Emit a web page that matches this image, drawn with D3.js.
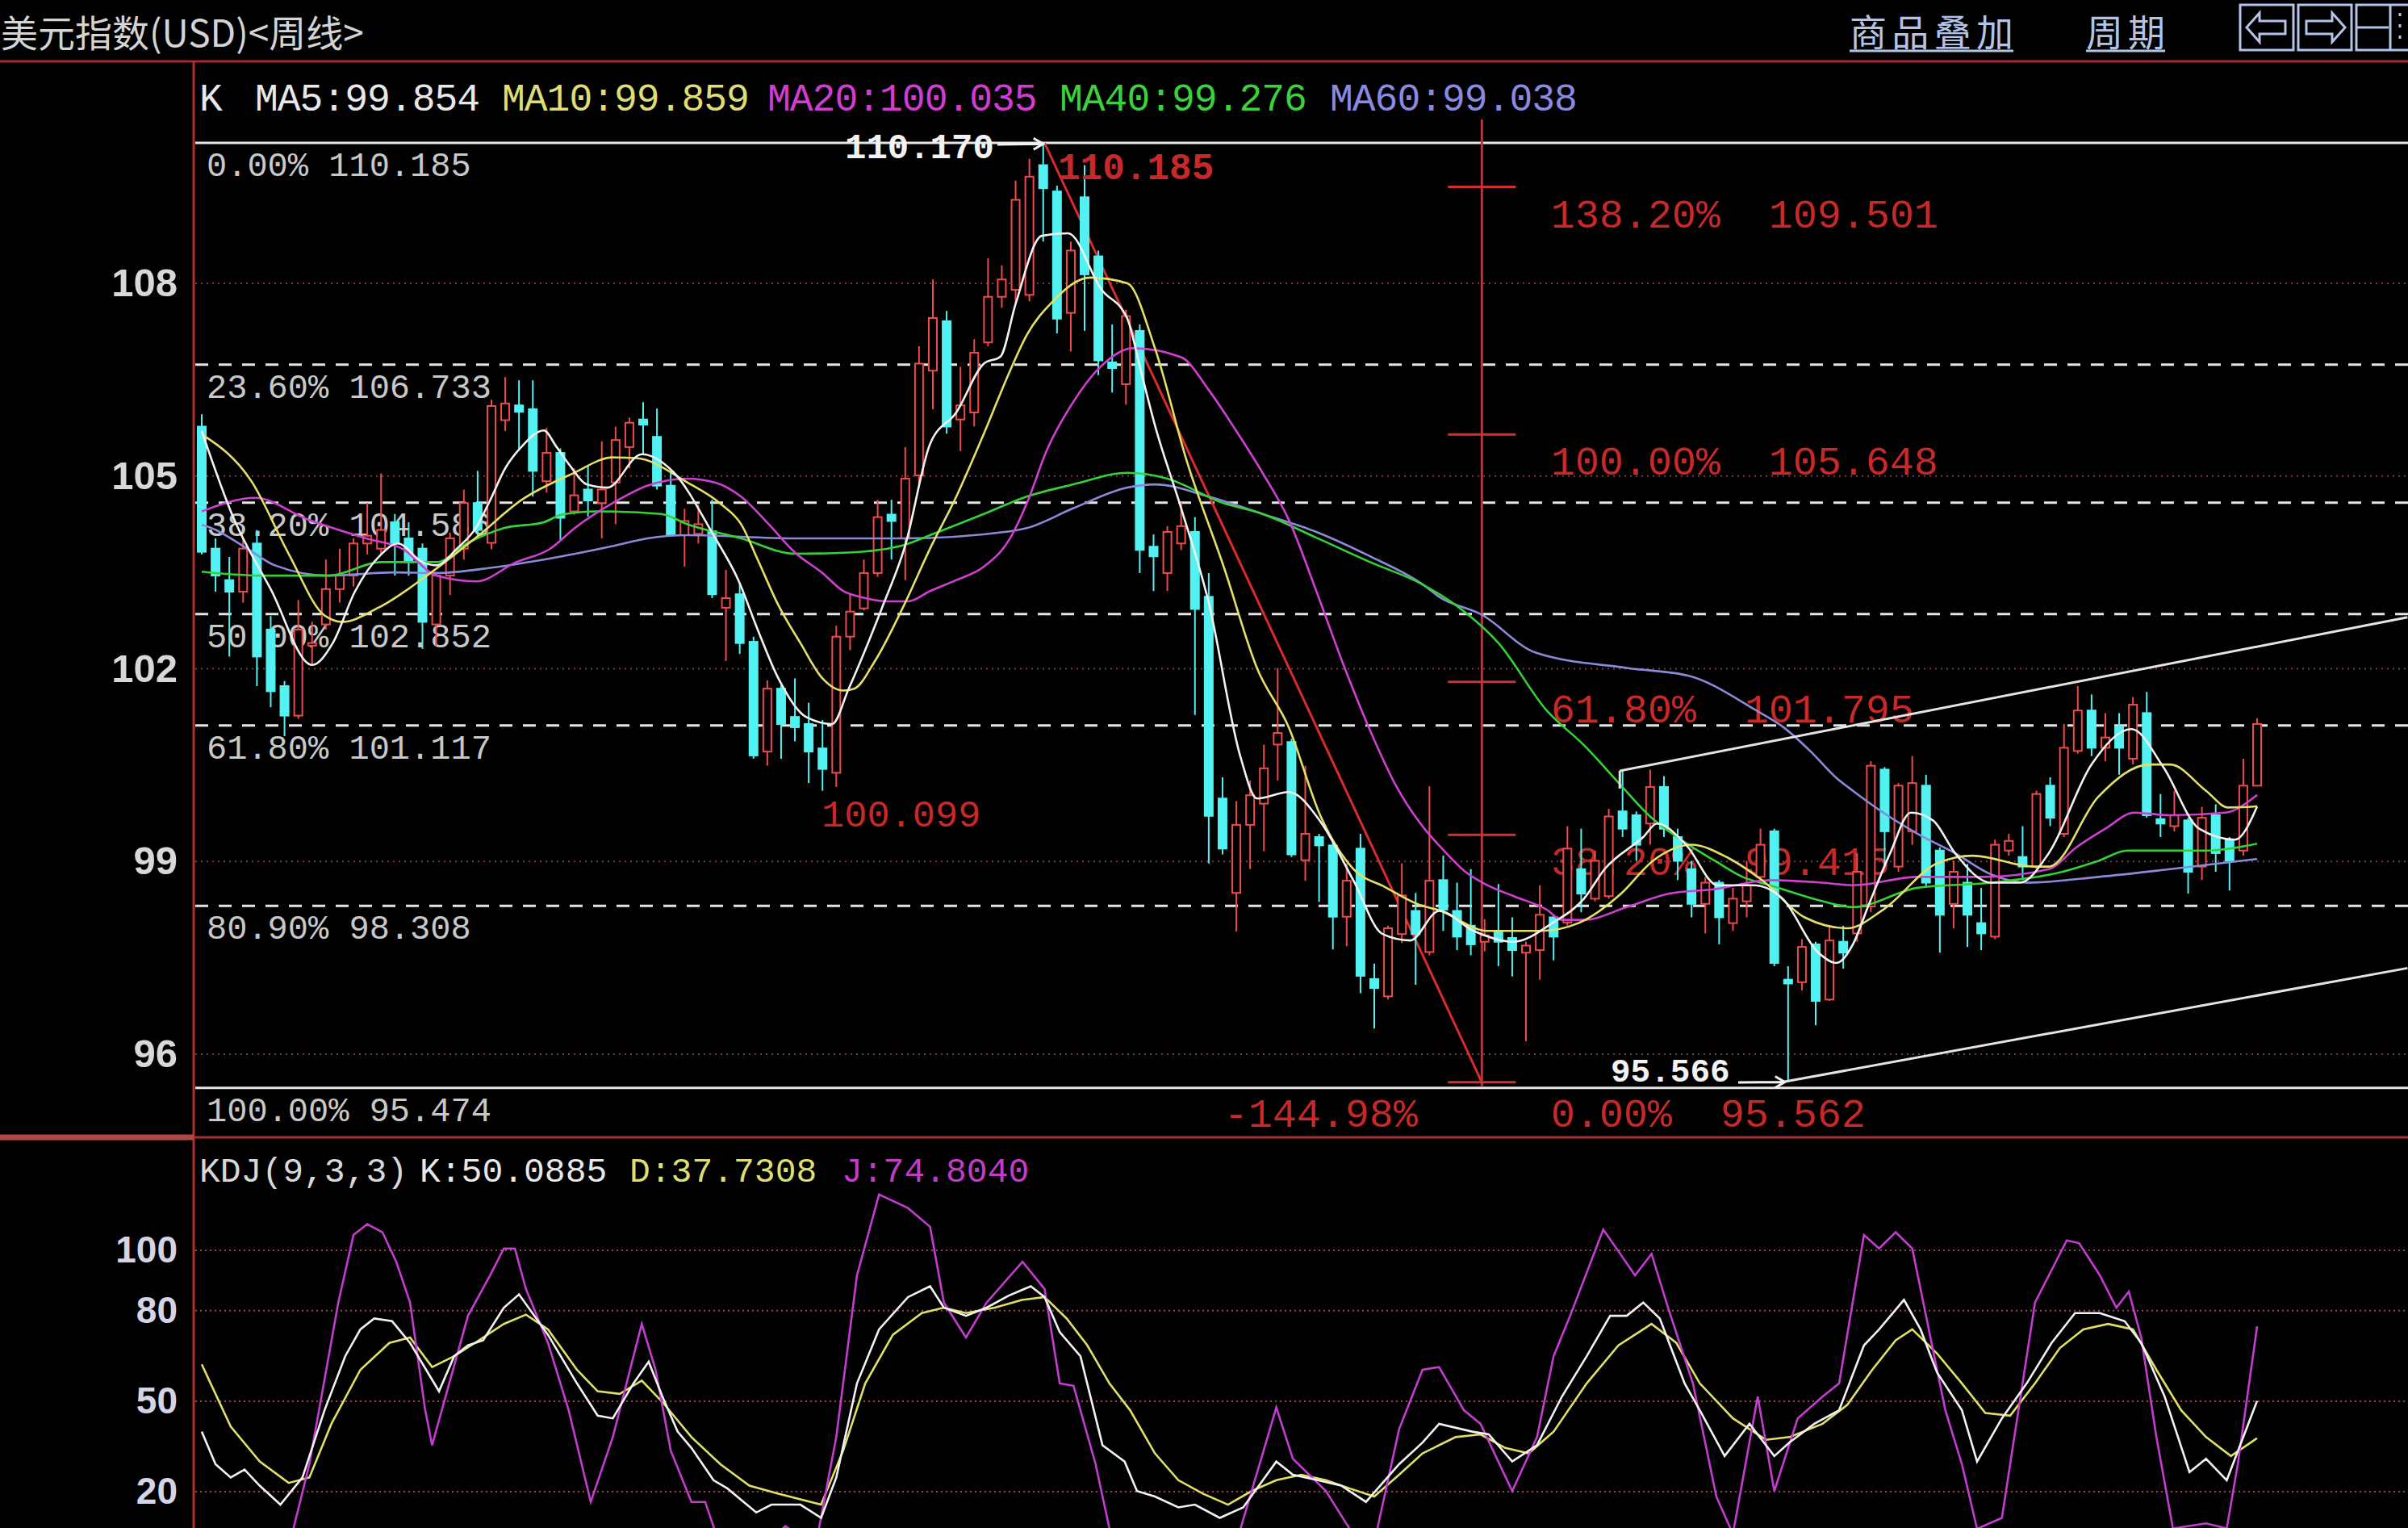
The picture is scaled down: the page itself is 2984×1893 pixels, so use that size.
<!DOCTYPE html>
<html><head><meta charset="utf-8">
<script src="https://cdn.jsdelivr.net/npm/d3@7"></script>
<style>html,body{margin:0;padding:0;background:#000;}svg{display:block;}</style>
</head><body>
<svg id="c" width="2984" height="1893"></svg>
<script>
// ---------------- DATA ----------------
const title = "美元指数(USD)<周线>";
const menuItems = ["商品叠加", "周期"];
const open = [105.77,103.87,103.38,103.20,103.95,102.61,101.73,101.27,102.36,102.69,
103.24,103.45,103.95,103.87,104.28,104.03,103.87,102.69,103.45,103.87,
104.58,103.96,105.87,106.10,106.04,104.92,105.36,104.45,104.79,104.58,
104.90,105.45,105.88,105.61,104.85,104.08,104.10,104.14,102.95,103.16,
102.42,100.71,101.69,101.25,101.14,100.76,100.38,102.50,102.94,103.49,
104.40,104.03,105.01,106.64,107.41,105.88,105.99,107.08,107.79,107.90,
107.82,109.84,109.43,107.54,109.34,108.42,106.77,106.43,107.26,103.90,
103.49,103.95,104.13,103.12,99.98,98.51,99.57,99.90,100.82,100.86,
99.02,99.38,99.25,98.14,99.20,97.17,96.90,97.87,98.23,97.59,
98.71,98.23,98.00,97.75,97.92,97.81,97.58,97.62,98.13,98.05,
98.88,98.42,98.46,99.78,99.72,99.59,100.16,99.38,98.88,98.34,
98.67,98.04,98.38,98.76,99.47,97.16,97.12,97.71,96.85,97.75,
97.88,98.30,100.43,98.92,99.47,100.18,99.17,98.34,98.67,98.04,
97.83,99.17,99.07,98.92,100.18,99.43,100.72,101.35,100.77,101.10,
100.60,101.31,99.66,99.55,99.64,98.92,99.72,99.34,99.17,100.18];
const high = [105.96,104.03,103.74,104.03,104.16,102.82,101.81,103.07,102.73,103.70,
103.87,104.03,104.58,105.04,104.41,104.28,103.95,103.49,104.12,104.79,
105.08,106.19,106.54,106.49,106.49,105.75,105.43,105.12,105.16,105.54,
105.77,105.91,106.15,106.05,105.07,104.49,104.55,104.63,103.54,103.32,
102.50,101.82,101.74,101.85,101.47,101.20,102.67,103.16,103.70,104.63,
104.63,105.45,107.02,108.06,107.57,106.70,107.13,108.39,108.28,109.60,
109.94,110.17,109.52,108.65,109.84,108.51,107.36,107.59,107.36,104.09,
104.22,104.59,104.36,103.49,100.31,99.94,100.26,100.82,102.01,100.91,
100.49,99.43,99.34,98.97,99.43,97.41,98.00,98.97,98.51,100.17,
99.09,98.67,98.88,98.10,98.65,98.13,97.75,98.63,98.17,99.55,
99.51,99.17,99.82,100.43,99.78,100.43,100.33,99.51,99.01,98.76,
98.71,98.59,99.01,99.51,99.51,97.37,97.79,97.75,98.00,98.00,
99.13,100.56,100.47,100.22,100.64,100.35,99.22,99.01,98.96,98.59,
99.34,99.43,99.55,100.10,100.31,101.14,101.73,101.60,101.31,101.31,
101.56,101.64,100.05,100.10,99.68,99.85,99.89,99.38,100.60,101.23];
const low = [103.78,103.20,102.19,103.03,101.73,101.40,100.95,101.22,102.06,102.61,
103.03,103.28,103.78,103.78,103.45,103.45,102.31,102.36,103.15,103.70,
104.03,103.86,105.70,105.40,104.68,104.74,103.99,104.40,104.37,104.03,
104.25,105.12,105.34,104.79,104.06,103.59,103.95,103.10,102.12,102.23,
100.60,100.49,100.60,100.87,100.22,100.10,100.16,102.29,102.91,103.43,
103.70,103.38,104.85,106.04,105.66,105.39,105.77,107.02,107.62,107.70,
107.72,108.65,107.22,106.94,107.26,106.57,106.30,106.11,103.49,103.21,
103.21,103.85,101.28,98.97,99.11,97.91,98.88,99.16,100.26,99.07,
98.70,98.37,97.63,97.68,96.95,96.40,96.85,97.73,97.08,97.54,
97.92,97.62,97.54,97.60,97.37,97.21,96.20,97.16,97.46,98.00,
98.21,98.38,98.42,99.38,99.01,99.26,99.38,98.71,98.13,97.88,
97.71,97.92,98.13,98.67,97.37,95.566,96.99,96.45,96.83,97.33,
97.75,98.21,98.92,98.84,99.26,98.59,97.58,97.96,97.67,97.62,
97.79,99.09,98.71,98.88,99.55,99.38,100.68,100.64,100.56,100.35,
100.51,99.68,99.38,99.47,98.50,98.71,98.84,98.55,99.09,100.18];
const close = [103.82,103.45,103.20,103.87,102.19,101.65,101.27,102.61,102.40,103.24,
103.45,103.95,104.07,104.16,103.95,103.66,102.73,103.45,104.03,104.58,
104.16,106.09,106.13,106.00,105.08,105.36,104.35,104.70,104.62,104.79,
105.56,105.83,105.80,104.85,104.08,104.30,104.25,103.16,103.10,102.40,
100.65,101.69,101.14,101.09,100.71,100.44,102.50,102.89,103.49,104.36,
104.30,104.96,106.75,107.46,105.77,106.10,106.92,107.79,108.06,109.30,
109.66,109.48,107.45,108.51,108.14,106.80,106.68,107.49,103.85,103.75,
104.13,104.22,102.93,99.71,99.20,99.57,100.03,100.45,101.00,99.11,
99.43,99.25,98.14,98.70,97.22,97.03,97.96,98.47,97.87,98.70,
98.25,97.83,97.71,97.85,97.75,97.62,97.69,98.17,97.83,99.20,
98.50,99.01,99.70,99.51,99.26,100.16,99.51,99.01,98.34,98.67,
98.13,98.42,98.63,99.26,97.42,97.10,97.67,96.83,97.77,97.58,
98.84,100.49,99.47,100.18,100.22,98.67,98.17,98.84,98.17,97.88,
99.26,99.32,98.92,100.05,99.68,100.77,101.35,100.77,100.93,100.77,
101.44,99.72,99.59,99.72,98.84,99.68,99.13,99.01,100.18,101.14];

// moving averages: [candle index, value]
const ma5 = [[0,105.70],[2.3,104.35],[5,103.24],[8,102.06],[9.5,102.40],[11.1,103.2],[13,103.78],[14.2,103.95],[16,103.66],[17,103.61],[18.5,103.87],[19.9,104.20],[20.9,104.62],[22,105.12],[23.2,105.46],[24.8,105.71],[25.7,105.46],[26.7,105.16],[27.9,104.87],[29.4,104.82],[31.9,105.34],[34.2,105.06],[37.1,104.08],[38.9,103.38],[40.3,102.61],[41.8,101.85],[43.8,101.25],[45.7,101.14],[46.9,101.69],[49.3,102.94],[51,103.92],[52.8,105.50],[54.7,105.99],[56.7,106.75],[57.9,106.86],[59,107.68],[60.9,108.74],[62.8,108.78],[65.2,107.91],[67.1,107.45],[68.1,106.62],[69.1,105.79],[71,104.50],[73,103.03],[75.3,100.63],[76.5,99.98],[78.8,100.08],[81.1,99.62],[83.5,98.70],[85.6,97.87],[87.6,97.77],[89.7,98.23],[92.2,97.92],[95.1,97.75],[97.9,98.04],[100.2,98.42],[101.7,98.88],[104.5,99.38],[105.5,99.59],[107.6,99.26],[109.9,98.63],[112.5,98.63],[114.6,98.42],[117.2,97.58],[118.5,97.42],[119.7,97.71],[120.8,98.30],[122.4,99.13],[123.9,99.76],[125.5,99.64],[127.1,99.13],[129.7,98.67],[131.8,98.67],[133.9,99.13],[137,100.51],[139.9,101.06],[142.2,100.47],[144.8,99.51],[147.4,99.34],[149,99.854]];
const ma10 = [[0,105.65],[3.6,104.92],[6.3,103.79],[8.9,102.83],[10.2,102.73],[12.8,102.95],[16.7,103.51],[20.1,104.08],[23.2,104.63],[26.9,105.04],[29.8,105.29],[31.5,105.28],[35.2,104.90],[37.6,104.57],[39.1,104.25],[40.3,103.70],[41.8,102.99],[43.4,102.40],[45,101.85],[46.5,101.66],[47.3,101.69],[48.8,102.12],[50.8,102.94],[52.8,103.87],[54.7,104.68],[56.7,105.66],[58.6,106.64],[59.8,107.19],[61.7,107.72],[64.4,108.09],[67.1,108.00],[69.1,106.99],[71.4,105.24],[74.1,103.58],[76.5,102.01],[78.8,101.09],[81.1,99.71],[83.5,98.88],[85.8,98.60],[88.2,98.33],[89.7,98.24],[93.2,97.92],[97.1,97.92],[99.8,98.04],[102.9,98.50],[105.2,99.01],[108,99.26],[110.7,99.05],[113.1,98.71],[116.2,98.13],[119.3,97.96],[121.9,98.25],[125.8,98.97],[128.4,99.09],[132.8,98.92],[133.9,98.92],[137.5,100.01],[141.2,100.51],[142.7,100.51],[145.3,100.10],[146.9,99.84],[149,99.859]];
const ma20 = [[0,104.45],[3.9,104.66],[7.6,104.33],[11.9,104.03],[14.6,103.86],[17,103.45],[19.9,103.36],[22.8,103.66],[25.2,103.86],[27.1,104.20],[29.8,104.58],[32.3,104.85],[35.2,104.96],[37.2,104.90],[39.1,104.68],[41.1,104.25],[43,103.81],[45,103.49],[46.5,103.21],[48.1,103.10],[49.7,103.05],[51.2,103.05],[52.8,103.21],[54.7,103.38],[56.7,103.59],[58.6,104.03],[59.8,104.57],[61.3,105.42],[63.2,106.16],[65.2,106.71],[67.5,106.99],[71,106.85],[73,106.34],[75,105.70],[76.9,105.05],[78.8,104.32],[80.8,103.21],[82.7,102.10],[84.6,101.09],[86.6,100.17],[88.6,99.52],[89.7,99.25],[91.6,98.84],[93.2,98.63],[95.1,98.46],[97.5,98.25],[98.6,98.09],[100.2,98.09],[103.3,98.29],[106.4,98.50],[109.7,98.57],[113.7,98.71],[117.5,98.67],[119.7,98.63],[124.4,98.76],[129.2,98.76],[133.9,98.88],[135.9,99.22],[138,99.51],[140.1,99.76],[142.7,99.72],[146.7,99.76],[149,100.035]];
const ma40 = [[0,103.51],[4.5,103.45],[9.2,103.45],[13,103.66],[17,103.66],[19.3,103.96],[21.9,104.19],[24.8,104.28],[26.1,104.40],[28.7,104.45],[33.3,104.41],[35.2,104.25],[39.1,104.03],[43,103.79],[46.9,103.81],[50.8,103.92],[52.8,104.08],[56.7,104.41],[59.8,104.68],[63.2,104.87],[67.1,105.05],[70,104.96],[73.9,104.59],[76.9,104.41],[80.8,104.04],[84.6,103.67],[88.6,103.30],[91.1,102.96],[94,102.4],[97.5,101.35],[100.2,100.81],[102.9,100.18],[104.9,99.72],[107.8,99.26],[109.7,99.01],[111.7,98.76],[113.7,98.63],[115.6,98.50],[117.5,98.38],[119.7,98.29],[124.4,98.59],[129.7,98.67],[134.9,98.84],[137.5,99.01],[139.6,99.17],[145.3,99.17],[149,99.276]];
const ma60 = [[0,104.24],[0.6,104.20],[3.3,103.87],[5.3,103.61],[9.2,103.45],[14,103.50],[17,103.49],[20.9,103.57],[24.8,103.70],[29.8,103.91],[32.3,104.03],[35.2,104.08],[43,104.03],[50.8,104.03],[58.6,104.14],[59.8,104.19],[63.2,104.50],[67.1,104.82],[69.1,104.87],[73,104.68],[76.9,104.41],[80.8,104.13],[84.6,103.76],[88.6,103.30],[89.7,103.12],[92.8,102.84],[96.7,102.25],[103.4,102.01],[107.8,101.89],[112.7,101.35],[114.6,101.10],[116.6,100.72],[118.5,100.30],[119.7,100.10],[121.9,99.76],[124.4,99.43],[127.1,99.13],[129.7,98.80],[132.3,98.67],[137.5,98.76],[142.7,98.88],[149,99.038]];

// KDJ: [candle index, value]
const kLine = [[0,39.9],[1,29.1],[2.1,24.7],[3.1,27.3],[4.2,22],[5.7,15.7],[7.3,24.7],[8.9,47],[10.4,64.9],[11.5,73.8],[12.5,77.4],[13.8,76.5],[15.1,69.3],[17.2,53.3],[18.3,64.9],[19.3,68.5],[20.4,70.2],[21.9,81],[23,85.4],[25.1,72],[27.2,55.9],[28.7,45.2],[29.8,44.3],[31.3,55.9],[32.4,63.1],[33.4,51.5],[34.5,39.9],[35.5,34.5],[37.1,23.8],[38.1,21.1],[40.2,13.1],[41.3,15.7],[43.4,15.7],[44.9,11.3],[46,24.7],[47.5,55.9],[49.1,73.8],[51.2,84.5],[52.8,88.1],[53.8,81],[55.4,78.3],[56.9,81],[58.5,85],[60.1,88.1],[61.1,84.5],[62.2,72.9],[63.7,64.9],[65.3,35.4],[66.9,30],[67.8,20.2],[69.1,18.4],[70.8,14.8],[72,15.7],[73.8,11.3],[75.5,14.8],[77.9,30],[79.1,25.6],[80.9,23.8],[82.6,22],[84.4,16.6],[86.8,29.1],[88.5,36.3],[89.7,42.5],[92.1,39.9],[93.3,39],[95,30],[96.8,35.4],[98.6,51.5],[100.4,64.9],[102.1,78.3],[103.3,78.3],[104.5,82.7],[105.7,77.4],[107.5,55.9],[108.6,47],[110.4,31.8],[112.2,42.5],[114,31.8],[115.1,36.3],[116.9,42.5],[118.7,47],[120.5,68.5],[121.6,73.8],[123.4,83.6],[124.6,73.8],[125.8,59.5],[127.6,47],[128.7,30],[130.5,44.3],[132.3,55.9],[134.1,69.3],[135.8,79.2],[137.6,79.2],[139.4,76.5],[140.6,69.3],[142.3,51.5],[144.1,26.5],[145.3,30.9],[146.8,23.8],[149,50.09]];
const dLine = [[0,62.2],[2.1,41.6],[4.2,30],[6.3,22.9],[7.8,24.7],[9.4,42.5],[11.5,60.4],[13.6,69.3],[15.1,71.1],[16.7,61.3],[18.3,64.9],[19.8,69.3],[21.9,75.6],[23.5,78.7],[25.1,73.8],[27.2,60.4],[28.7,53.3],[30.3,52.4],[31.9,56.8],[33.4,49.7],[35.5,38.1],[37.6,29.1],[39.7,22],[41.8,19.3],[44.9,15.7],[46.5,33.6],[48.1,55.9],[50.1,72],[52.2,79.2],[53.8,81],[55.4,79.2],[57.5,81],[59.5,83.6],[61.1,84.5],[62.7,77.4],[64.2,68.5],[65.8,55.9],[67.3,47],[69.1,32.7],[70.8,23.8],[72.6,19.3],[74.4,15.7],[76.1,20.2],[77.9,23.8],[79.7,25.6],[81.5,23.8],[83.2,21.1],[85,18.4],[86.8,25.6],[88.5,32.7],[90.9,38.1],[92.7,39],[94.5,34.5],[96.2,32.7],[98,39.9],[100.4,55.9],[102.7,68.5],[105.1,75.6],[106.9,69.3],[108.6,55.9],[111,44.3],[113.4,37.2],[115.1,38.1],[117.5,42.5],[119.3,48.8],[121.1,60.4],[122.8,70.2],[124,73.8],[125.8,65.8],[127.6,55.9],[129.3,46.1],[131.1,45.2],[132.9,55.9],[134.7,67.6],[136.4,73.8],[138.2,75.6],[140,73.8],[141.7,60.4],[143.5,47],[145.3,38.1],[147.1,31.8],[149,37.73]];
const jLine = [[0,-5],[3,-8],[5.7,-5],[6.5,5],[7.8,29.1],[9.9,82.7],[11,105.1],[12,108.7],[13.1,106],[14.1,96.2],[15.1,82.7],[16.2,47],[16.7,35.4],[19.3,78.3],[20.9,91.7],[21.9,100.6],[22.7,100.6],[23.5,87.2],[25.1,69.3],[26.6,47],[28.2,16.6],[29.8,38.1],[31.3,64.9],[31.9,75.6],[32.9,60.4],[34,33.6],[35.5,16.6],[36.5,16.6],[37.5,3],[40,-2],[42.3,8.6],[44.5,2],[46,38.1],[47.5,91.7],[49.1,118.5],[51.2,114],[52.8,107.8],[53.8,82.7],[55.4,71.1],[56.9,82.7],[59.5,96.2],[61.1,87.2],[62.2,55.9],[63.2,55.1],[64.8,29.1],[65.8,7.8],[67,-5],[70,-10],[73,-5],[75,3],[77.9,47.9],[79.1,30.9],[81.5,20.2],[83.2,7.8],[85,3],[86.8,40.7],[88.5,60.4],[89.7,61.3],[91.5,47],[92.7,42.5],[95,20.2],[96.8,38.1],[98,64.9],[99.2,78.3],[101.6,106.9],[102.7,99.7],[103.9,91.7],[105.1,98.8],[106.3,81],[108.1,55.9],[109.8,18.4],[111,6],[112.8,51.5],[114,20.2],[115.7,44.3],[117.5,51.5],[118.7,55.9],[120.5,105.1],[121.6,100.6],[122.8,106],[124,100.6],[126.4,47],[127.6,29.1],[128.7,7.7],[130.5,11.3],[132.9,82.7],[135.2,103.3],[136.1,102.4],[137.6,91.7],[138.8,81],[139.7,86.3],[140.6,71.1],[141.7,38.1],[142.9,7.8],[145.3,9.5],[146.8,7.8],[147.6,29.1],[149,74.8]];

const priceTicks = [108, 105, 102, 99, 96];
const kdjTicks = [100, 80, 50, 20];
const fibLevels = [110.185, 106.733, 104.586, 102.852, 101.117, 98.308, 95.474];
const fibLabels = ["0.00% 110.185","23.60% 106.733","38.20% 104.586","50.00% 102.852","61.80% 101.117","80.90% 98.308","100.00% 95.474"];
const extLevels = [109.501, 105.648, 101.795, 99.415, 95.562];
const extLabels = ["138.20%\u00a0\u00a0109.501","100.00%\u00a0\u00a0105.648","61.80%\u00a0\u00a0101.795","38.20%\u00a0\u00a099.415","0.00%\u00a0\u00a095.562"];
const extIndex = 92.8, extTop = 110.55, extBottom = 95.50;
const extDiag = [[61.1, 110.185], [92.8, 95.562]];
const upperChannel = [[102.8, 100.41], [159.9, 102.80]];
const lowerChannel = [[114.6, 95.566], [159.9, 97.34]];
const maLegend = [["K","#e8e8e8"],["MA5:99.854","#e8e8e8"],["MA10:99.859","#dede72"],["MA20:100.035","#d23cd2"],["MA40:99.276","#3cd23c"],["MA60:99.038","#8a8ae0"]];
const kdjLegend = [["KDJ(9,3,3)","#d8d8d8"],["K:50.0885","#e8e8e8"],["D:37.7308","#dede72"],["J:74.8040","#c23cc8"]];

// ---------------- DRAW ----------------
const W = 2984, H = 1893, L = 242;
const svg = d3.select('#c');
svg.append('rect').attr('width', W).attr('height', H).attr('fill', '#000');
const xs = d3.scaleLinear().domain([0, 149]).range([250, 2797]);
const y = d3.scaleLinear().domain([96, 108]).range([1306, 351]);
const yk = d3.scaleLinear().domain([20, 100]).range([1848, 1549]);
const mono = "'Liberation Mono','DejaVu Sans Mono',monospace";
const cjk = "'Noto Sans CJK SC','Noto Sans',sans-serif";

const defs = svg.append('defs');
defs.append('clipPath').attr('id', 'cm').append('rect').attr('x', L).attr('y', 79).attr('width', W - L).attr('height', 1328);
defs.append('clipPath').attr('id', 'ck').append('rect').attr('x', L).attr('y', 1414).attr('width', W - L).attr('height', H - 1414);

// grid
svg.append('g').selectAll('line').data(priceTicks).join('line')
  .attr('x1', L).attr('x2', W).attr('y1', d => y(d)).attr('y2', d => y(d))
  .attr('stroke', '#7c3c3c').attr('stroke-width', 2).attr('stroke-dasharray', '2,5');
svg.append('g').selectAll('line').data(kdjTicks).join('line')
  .attr('x1', L).attr('x2', W).attr('y1', d => yk(d)).attr('y2', d => yk(d))
  .attr('stroke', '#9a4848').attr('stroke-width', 2).attr('stroke-dasharray', '2,4');

// axes
const ax = svg.append('g').attr('transform', 'translate(240,0)')
  .call(d3.axisLeft(y).tickValues(priceTicks).tickSize(0).tickPadding(20).tickFormat(d3.format('d')));
ax.select('.domain').remove();
ax.selectAll('text').attr('font-family', "'Liberation Sans',Arial,sans-serif").attr('font-weight', 'bold').attr('font-size', 49).attr('fill', '#d8d8d8');
const axk = svg.append('g').attr('transform', 'translate(240,0)')
  .call(d3.axisLeft(yk).tickValues(kdjTicks).tickSize(0).tickPadding(20).tickFormat(d3.format('d')));
axk.select('.domain').remove();
axk.selectAll('text').attr('font-family', "'Liberation Sans',Arial,sans-serif").attr('font-weight', 'bold').attr('font-size', 46).attr('fill', '#d4d4e6');

const gm = svg.append('g').attr('clip-path', 'url(#cm)');

// fib retracement lines
gm.selectAll('line.fib').data(fibLevels).join('line').attr('class', 'fib')
  .attr('x1', L).attr('x2', W).attr('y1', d => y(d)).attr('y2', d => y(d))
  .attr('stroke', '#e6e6e6').attr('stroke-width', 3)
  .attr('stroke-dasharray', (d, i) => (i === 0 || i === fibLevels.length - 1) ? null : '16,13');
gm.selectAll('text.fibl').data(fibLevels).join('text').attr('class', 'fibl')
  .attr('x', 256).attr('y', d => y(d) + 41).text((d, i) => fibLabels[i])
  .attr('font-family', mono).attr('font-size', 42).attr('fill', '#c8c8c8');

// fib extension (red)
gm.append('line').attr('x1', xs(extIndex)).attr('x2', xs(extIndex)).attr('y1', y(extTop)).attr('y2', y(extBottom))
  .attr('stroke', '#d02a2a').attr('stroke-width', 3);
gm.selectAll('line.ext').data(extLevels).join('line').attr('class', 'ext')
  .attr('x1', xs(extIndex) - 42).attr('x2', xs(extIndex) + 42).attr('y1', d => y(d)).attr('y2', d => y(d))
  .attr('stroke', '#d03030').attr('stroke-width', 3);
gm.selectAll('text.extl').data(extLevels).join('text').attr('class', 'extl')
  .attr('x', 1922).attr('y', (d, i) => y(d) + (i === extLevels.length - 1 ? 55 : 50)).text((d, i) => extLabels[i])
  .attr('font-family', mono).attr('font-size', 50).attr('fill', '#c82828');
gm.append('text').attr('x', 1517).attr('y', y(extLevels[4]) + 55).text('-144.98%')
  .attr('font-family', mono).attr('font-size', 50).attr('fill', '#c82828');
gm.append('path').attr('d', d3.line().x(d => xs(d[0])).y(d => y(d[1]))(extDiag))
  .attr('stroke', '#d82c2c').attr('stroke-width', 3).attr('fill', 'none');

// candles
const idx = d3.range(open.length);
const cg = gm.append('g');
const up = i => close[i] >= open[i];
const RED = '#f04a4a', CYAN = '#52f2f2';
cg.selectAll('line.w').data(idx).join('line').attr('class', 'w')
  .attr('x1', i => xs(i)).attr('x2', i => xs(i)).attr('y1', i => y(high[i])).attr('y2', i => y(low[i]))
  .attr('stroke', i => up(i) ? RED : CYAN).attr('stroke-width', 2);
cg.selectAll('rect').data(idx).join('rect')
  .attr('x', i => xs(i) - 5).attr('width', 10)
  .attr('y', i => y(Math.max(open[i], close[i])))
  .attr('height', i => Math.max(2, y(Math.min(open[i], close[i])) - y(Math.max(open[i], close[i]))))
  .attr('fill', i => up(i) ? '#000' : CYAN)
  .attr('stroke', i => up(i) ? RED : CYAN).attr('stroke-width', 2);

// MAs
const maLine = d3.line().x(d => xs(d[0])).y(d => y(d[1])).curve(d3.curveMonotoneX);
[[ma60, '#8a8ad8'], [ma40, '#34d234'], [ma20, '#d040d0'], [ma10, '#e4e066'], [ma5, '#f2f2f2']].forEach(([d, c]) => {
  gm.append('path').attr('d', maLine(d)).attr('fill', 'none').attr('stroke', c).attr('stroke-width', 2.6);
});

// channel lines
[upperChannel, lowerChannel].forEach(d => {
  gm.append('path').attr('d', d3.line().x(p => xs(p[0])).y(p => y(p[1]))(d))
    .attr('stroke', '#e4e4e4').attr('stroke-width', 3).attr('fill', 'none');
});
gm.append('line').attr('x1', xs(upperChannel[0][0])).attr('x2', xs(upperChannel[0][0]))
  .attr('y1', y(upperChannel[0][1])).attr('y2', y(upperChannel[0][1]) + 22).attr('stroke', '#e4e4e4').attr('stroke-width', 3);

// annotations
gm.append('text').attr('x', 1047).attr('y', 196).text('110.170')
  .attr('font-family', mono).attr('font-weight', 'bold').attr('font-size', 44).attr('fill', '#f2f2f2');
gm.append('path').attr('d', `M1236,179 L${xs(61)},${y(110.17)} M${xs(61) - 12},${y(110.17) - 7} L${xs(61)},${y(110.17)} L${xs(61) - 12},${y(110.17) + 7}`)
  .attr('stroke', '#f2f2f2').attr('stroke-width', 3).attr('fill', 'none');
gm.append('text').attr('x', 1311).attr('y', 222).text('110.185')
  .attr('font-family', mono).attr('font-weight', 'bold').attr('font-size', 46).attr('fill', '#c82828');
gm.append('text').attr('x', 1018).attr('y', 1024).text('100.099')
  .attr('font-family', mono).attr('font-size', 47).attr('fill', '#c82828');
gm.append('text').attr('x', 1996).attr('y', 1340).text('95.566')
  .attr('font-family', mono).attr('font-weight', 'bold').attr('font-size', 41).attr('fill', '#f2f2f2');
gm.append('path').attr('d', `M2154,1341 L${xs(115) - 4},${y(95.566)} M${xs(115) - 16},${y(95.566) - 7} L${xs(115) - 4},${y(95.566)} L${xs(115) - 16},${y(95.566) + 7}`)
  .attr('stroke', '#f2f2f2').attr('stroke-width', 3).attr('fill', 'none');

// KDJ
const gk = svg.append('g').attr('clip-path', 'url(#ck)');
const kl = d3.line().x(d => xs(d[0])).y(d => yk(d[1]));
[[dLine, '#e2e064'], [jLine, '#c43cd0'], [kLine, '#f2f2f2']].forEach(([d, c]) => {
  gk.append('path').attr('d', kl(d)).attr('fill', 'none').attr('stroke', c).attr('stroke-width', 2.6);
});

// legends
const maX = [247, 316, 622, 951, 1313, 1648];
svg.append('g').selectAll('text').data(maLegend).join('text')
  .attr('x', (d, i) => maX[i]).attr('y', 137).text(d => d[0]).attr('fill', d => d[1])
  .attr('font-family', mono).attr('font-size', 48).attr('letter-spacing', -1);
const kX = [247, 520, 780, 1043];
svg.append('g').selectAll('text').data(kdjLegend).join('text')
  .attr('x', (d, i) => kX[i]).attr('y', 1464).text(d => d[0]).attr('fill', d => d[1])
  .attr('font-family', mono).attr('font-size', 43);

// frame
svg.append('line').attr('x1', 0).attr('x2', W).attr('y1', 76).attr('y2', 76).attr('stroke', '#a82a2a').attr('stroke-width', 3);
svg.append('line').attr('x1', 240).attr('x2', 240).attr('y1', 76).attr('y2', H).attr('stroke', '#b03030').attr('stroke-width', 3);
svg.append('line').attr('x1', 0).attr('x2', 240).attr('y1', 1409).attr('y2', 1409).attr('stroke', '#b04848').attr('stroke-width', 7);
svg.append('line').attr('x1', 240).attr('x2', W).attr('y1', 1409).attr('y2', 1409).attr('stroke', '#a83030').attr('stroke-width', 3);

// title & menu
svg.append('text').attr('x', 1).attr('y', 58).text(title)
  .attr('font-family', cjk).attr('font-size', 46).attr('fill', '#d4d4d4');
const menuX = [2292, 2585], menuW = [203, 98];
menuItems.forEach((t, i) => {
  svg.append('text').attr('x', menuX[i]).attr('y', 57).text(t).attr('font-family', cjk)
    .attr('font-size', 46).attr('textLength', menuW[i]).attr('fill', '#b4c4e6');
  svg.append('line').attr('x1', menuX[i]).attr('x2', menuX[i] + menuW[i]).attr('y1', 63).attr('y2', 63)
    .attr('stroke', '#b4c4e6').attr('stroke-width', 3);
});
const ic = svg.append('g').attr('stroke', '#b4c4e6').attr('stroke-width', 3).attr('fill', 'none');
[2776, 2848, 2920].forEach(x0 => ic.append('rect').attr('x', x0).attr('y', 6).attr('width', 66).attr('height', 56));
ic.append('path').attr('d', 'M2784,34 L2800,16 L2800,26 L2832,26 L2832,42 L2800,42 L2800,52 Z');
ic.append('path').attr('d', 'M2906,34 L2890,16 L2890,26 L2858,26 L2858,42 L2890,42 L2890,52 Z');
ic.append('path').attr('d', 'M2920,34 L2960,34 M2962,6 L2962,62 M2974,16 L2974,20 M2974,30 L2974,34 M2974,44 L2974,48');
</script>
</body></html>
